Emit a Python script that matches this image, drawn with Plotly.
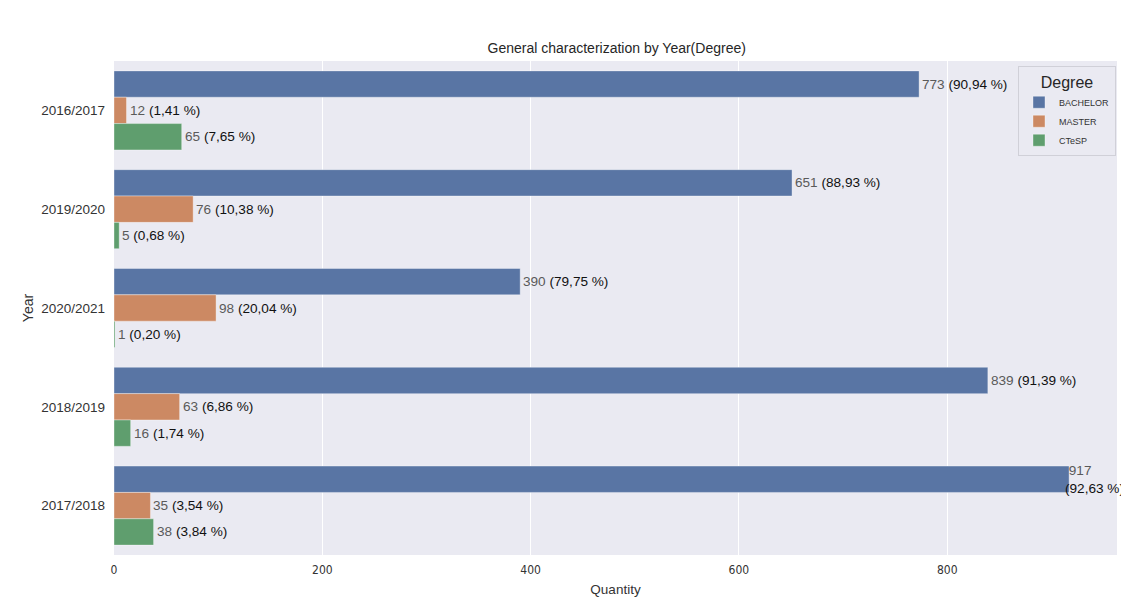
import plotly.graph_objects as go

years = ["2016/2017", "2019/2020", "2020/2021", "2018/2019", "2017/2018"]
degrees = ["BACHELOR", "MASTER", "CTeSP"]
bachelor = [773, 651, 390, 839, 917]
master = [12, 76, 98, 63, 35]
ctesp = [65, 5, 1, 16, 38]
colors = ["#5975A4", "#CC8963", "#5F9E6E"]

series = [bachelor, master, ctesp]
totals = [sum(v) for v in zip(*series)]

BARGAP = 0.2
n = len(series)
bar_w = (1 - BARGAP) / n

fig = go.Figure()
for name, vals, col in zip(degrees, series, colors):
    fig.add_trace(go.Bar(
        name=name, y=years, x=vals, orientation="h",
        marker=dict(color=col, line=dict(color="rgba(255,255,255,0.45)", width=0.8)),
    ))

FONT = "Liberation Sans, Arial, sans-serif"
for k, vals in enumerate(series):
    off = -(1 - BARGAP) / 2 + bar_w * (k + 0.5)
    for i, (v, tot) in enumerate(zip(vals, totals)):
        pct = f"{100 * v / tot:.2f}".replace(".", ",")
        wrap = v > 900
        if wrap:
            text = f'&nbsp;<span style="color:#5a5a5a">{v}</span><br>({pct} %)'
        else:
            text = f'<span style="color:#5a5a5a">{v}</span> ({pct} %)'
        fig.add_annotation(
            x=v, y=i + off, xref="x", yref="y",
            text=text,
            showarrow=False, xanchor="left", yanchor="middle", align="left",
            xshift=-6 if wrap else 1,
            font=dict(family=FONT, size=13.6, color="#111111"),
        )

fig.update_layout(
    width=1121, height=602,
    paper_bgcolor="white", plot_bgcolor="#EAEAF2",
    barmode="group", bargap=BARGAP, bargroupgap=0,
    margin=dict(l=106, r=12, t=53, b=55, autoexpand=False),
    title=dict(text="General characterization by Year(Degree)", x=0.543, xanchor="center",
               y=0.934, yanchor="middle",
               font=dict(family=FONT, size=14, color="#262626")),
    font=dict(family=FONT, color="#262626"),
    xaxis=dict(range=[0, 963], tickvals=[0, 200, 400, 600, 800], showgrid=True, gridcolor="white",
               gridwidth=1.2, zeroline=False, showline=False, ticks="", automargin=False,
               ticklabelstandoff=6,
               tickfont=dict(family="Liberation Sans Narrow, DejaVu Sans Condensed, Arial Narrow, sans-serif",
                             size=12, color="#333333"),
               title=dict(text="Quantity", font=dict(size=13.5, color="#333333"), standoff=8)),
    yaxis=dict(autorange="reversed", showgrid=False, zeroline=False, ticks="", automargin=False,
               ticklabelstandoff=8,
               tickfont=dict(size=13.5, color="#333333"),
               title=dict(text="Year", font=dict(size=14, color="#333333"), standoff=4)),
    legend=dict(title=dict(text="Degree", font=dict(size=16, color="#262626"), side="top center"),
                x=0.999, y=0.99, xanchor="right", yanchor="top",
                bgcolor="rgba(234,234,242,0.9)", bordercolor="#D0D0D8", borderwidth=1,
                font=dict(size=9, color="#333333"), itemwidth=30, tracegroupgap=0),
)

fig.write_html("out.html")
